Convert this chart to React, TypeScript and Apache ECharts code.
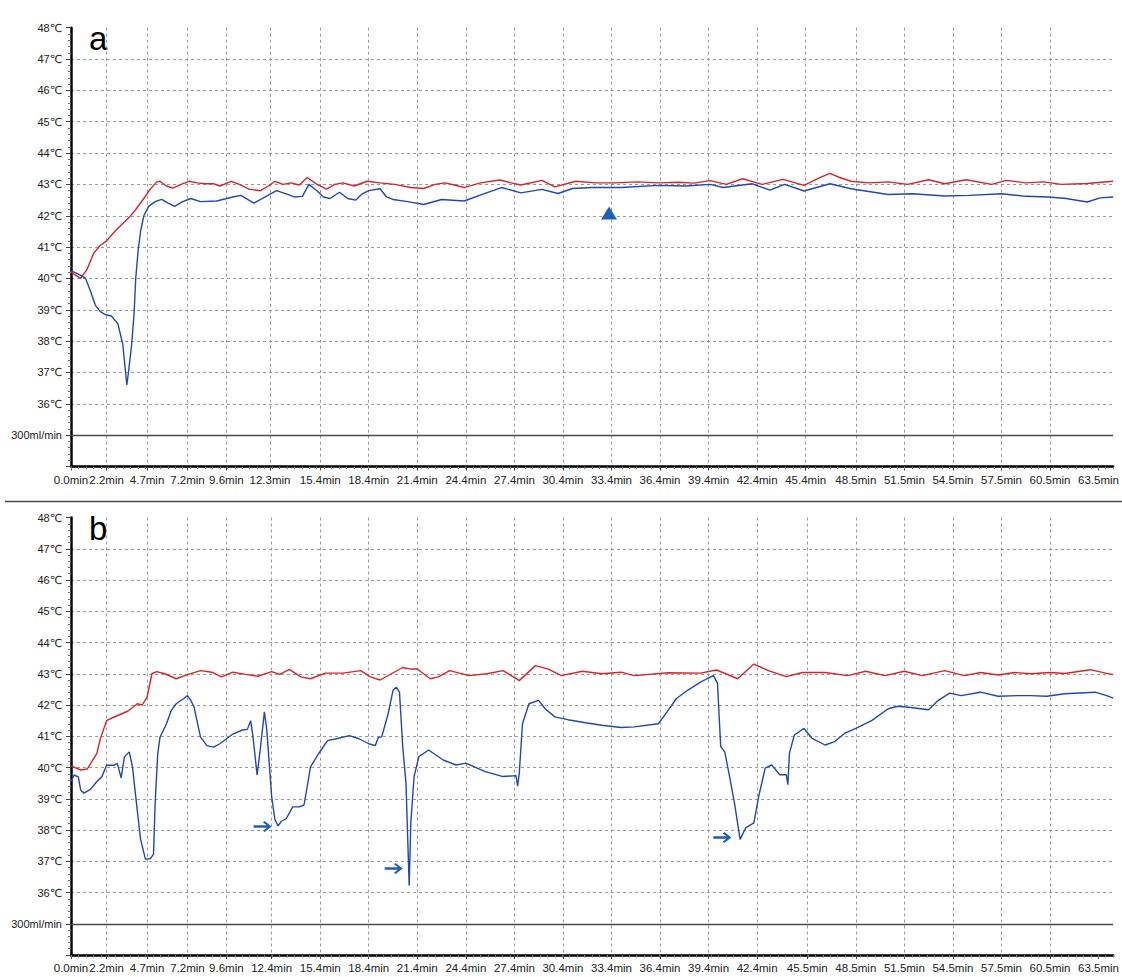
import React, { useEffect, useRef } from "react";
import * as echarts from "echarts";

// ---------- tick labels ----------
const xLabelsA = ["0.0min", "2.2min", "4.7min", "7.2min", "9.6min", "12.3min", "15.4min", "18.4min", "21.4min", "24.4min", "27.4min", "30.4min", "33.4min", "36.4min", "39.4min", "42.4min", "45.4min", "48.5min", "51.5min", "54.5min", "57.5min", "60.5min", "63.5min"];
const xLabelsB = ["0.0min", "2.2min", "4.7min", "7.2min", "9.6min", "12.4min", "15.4min", "18.4min", "21.4min", "24.4min", "27.4min", "30.4min", "33.4min", "36.4min", "39.4min", "42.4min", "45.5min", "48.5min", "51.5min", "54.5min", "57.5min", "60.5min", "63.5min"];
const flowLabel = "300ml/min";

// ---------- panel a ----------
const redA_t = [0, 0.3, 0.6, 1.0, 1.4, 1.8, 2.2, 2.7, 3.2, 3.6, 4.0, 4.5, 4.9, 5.3, 5.5, 5.9, 6.3, 6.8, 7.3, 7.8, 8.3, 8.8, 9.2, 9.9, 10.4, 11.0, 11.7, 12.2, 12.6, 13.1, 13.6, 14.1, 14.6, 15.2, 15.8, 16.3, 16.8, 17.5, 18.3, 19.1, 20.0, 21.0, 21.8, 22.5, 23.1, 23.7, 24.3, 25.3, 26.5, 27.2, 27.8, 29.1, 29.9, 31.2, 32.4, 33.6, 35.0, 36.3, 37.5, 38.5, 39.5, 40.5, 41.5, 42.7, 44.0, 45.3, 46.2, 46.9, 47.5, 48.2, 49.3, 50.5, 51.7, 53.0, 54.0, 55.3, 56.9, 57.8, 59.0, 60.1, 61.2, 62.8, 64.4];
const redA_v = [40.2, 40.1, 40.0, 40.3, 40.8, 41.05, 41.2, 41.5, 41.75, 41.95, 42.2, 42.55, 42.85, 43.08, 43.1, 42.95, 42.88, 43.0, 43.1, 43.05, 43.02, 43.02, 42.95, 43.1, 43.0, 42.85, 42.8, 42.95, 43.1, 43.0, 43.05, 42.98, 43.22, 43.0, 42.85, 43.0, 43.05, 42.95, 43.1, 43.05, 43.0, 42.9, 42.87, 43.0, 43.05, 42.98, 42.9, 43.05, 43.14, 43.05, 42.98, 43.13, 42.92, 43.1, 43.05, 43.05, 43.08, 43.05, 43.07, 43.04, 43.12, 43.0, 43.18, 43.0, 43.16, 42.97, 43.2, 43.35, 43.22, 43.1, 43.05, 43.08, 43.0, 43.15, 43.02, 43.15, 43.0, 43.13, 43.05, 43.08, 43.0, 43.03, 43.1];

const blueA_t = [0, 0.3, 0.6, 0.9, 1.2, 1.5, 1.8, 2.1, 2.5, 2.9, 3.2, 3.45, 3.55, 3.75, 3.9, 4.0, 4.15, 4.3, 4.5, 4.8, 5.2, 5.6, 6.0, 6.4, 6.9, 7.4, 8.0, 9.0, 10.0, 10.5, 11.3, 12.0, 12.7, 13.3, 13.8, 14.3, 14.7, 15.2, 15.6, 16.0, 16.6, 17.1, 17.6, 18.0, 18.4, 19.1, 19.5, 19.9, 20.8, 21.8, 22.9, 24.3, 25.5, 26.6, 27.8, 29.1, 30.1, 31.0, 32.2, 34.0, 36.3, 38.0, 39.5, 40.3, 42.1, 43.2, 44.1, 45.3, 46.9, 48.2, 50.5, 52.0, 54.0, 55.5, 57.5, 59.0, 60.4, 61.5, 62.8, 63.6, 64.4];
const blueA_v = [40.24, 40.18, 40.1, 40.0, 39.6, 39.15, 38.95, 38.85, 38.8, 38.55, 37.9, 36.6, 37.0, 37.9, 38.9, 40.0, 40.9, 41.5, 42.0, 42.3, 42.45, 42.52, 42.4, 42.3, 42.45, 42.55, 42.45, 42.47, 42.6, 42.65, 42.4, 42.6, 42.8, 42.7, 42.6, 42.62, 43.0, 42.8, 42.6, 42.55, 42.75, 42.55, 42.5, 42.7, 42.8, 42.86, 42.6, 42.52, 42.45, 42.36, 42.52, 42.47, 42.7, 42.9, 42.73, 42.84, 42.71, 42.87, 42.9, 42.9, 42.97, 42.95, 43.0, 42.9, 43.02, 42.82, 43.0, 42.79, 43.02, 42.86, 42.68, 42.7, 42.63, 42.65, 42.7, 42.62, 42.6, 42.55, 42.44, 42.57, 42.6];

const triangleA_t = [33.25];
const triangleA_v = [42.09];

// ---------- panel b ----------
const redB_t = [0, 0.6, 1.0, 1.6, 1.8, 2.2, 2.6, 3.5, 4.1, 4.4, 4.7, 5.0, 5.3, 5.8, 6.5, 7.2, 8.0, 8.7, 9.3, 10.0, 10.8, 11.55, 12.4, 12.9, 13.5, 14.2, 14.8, 15.7, 16.8, 17.9, 18.5, 19.1, 20.5, 21.0, 21.4, 22.2, 22.7, 23.4, 24.6, 25.7, 26.7, 27.7, 28.7, 29.5, 30.3, 31.6, 32.8, 34.0, 34.8, 36.9, 38.9, 39.9, 41.2, 42.2, 43.1, 44.2, 45.2, 46.6, 48.0, 49.1, 50.3, 51.5, 52.6, 54.0, 55.2, 56.2, 57.3, 58.3, 59.3, 60.5, 61.4, 63.0, 64.0, 64.4];
const redB_v = [40.05, 39.92, 39.95, 40.45, 40.9, 41.5, 41.6, 41.8, 42.04, 42.0, 42.25, 43.0, 43.07, 43.0, 42.84, 42.97, 43.1, 43.05, 42.9, 43.05, 42.98, 42.92, 43.07, 42.98, 43.14, 42.9, 42.84, 43.02, 43.02, 43.1, 42.9, 42.8, 43.2, 43.15, 43.15, 42.84, 42.9, 43.1, 42.94, 43.0, 43.1, 42.78, 43.26, 43.15, 42.94, 43.08, 43.0, 43.05, 42.94, 43.03, 43.02, 43.12, 42.84, 43.31, 43.1, 42.91, 43.04, 43.04, 42.94, 43.08, 42.94, 43.08, 42.94, 43.1, 42.94, 43.04, 42.96, 43.04, 43.0, 43.04, 43.01, 43.13, 43.01, 42.97];

const blueB_t = [0, 0.2, 0.45, 0.6, 0.8, 1.2, 1.6, 1.9, 2.2, 2.66, 2.86, 3.1, 3.3, 3.6, 3.8, 4.0, 4.3, 4.6, 4.9, 5.1, 5.2, 5.36, 5.5, 5.9, 6.2, 6.5, 6.95, 7.2, 7.4, 7.6, 8.0, 8.4, 8.8, 9.2, 10.0, 10.6, 10.9, 11.1, 11.25, 11.5, 11.7, 11.95, 12.1, 12.4, 12.6, 12.8, 13.0, 13.3, 13.7, 14.1, 14.4, 14.6, 14.8, 15.3, 15.85, 16.4, 17.2, 17.8, 18.4, 18.8, 19.0, 19.2, 19.6, 19.9, 20.1, 20.3, 20.5, 20.7, 20.9, 21.0, 21.2, 21.5, 22.1, 23.0, 23.8, 24.4, 25.6, 26.7, 27.5, 27.6, 27.7, 27.9, 28.3, 28.9, 29.3, 29.9, 30.7, 31.8, 32.8, 34.0, 34.8, 36.3, 36.9, 37.4, 38.1, 38.9, 39.3, 39.7, 39.95, 40.15, 40.4, 40.7, 41.0, 41.35, 41.7, 42.2, 42.5, 42.9, 43.3, 43.8, 44.2, 44.3, 44.4, 44.7, 45.3, 45.8, 46.6, 47.2, 47.8, 48.5, 49.5, 50.5, 51.1, 51.9, 53.0, 53.6, 54.3, 55.0, 56.2, 57.3, 58.5, 59.3, 60.3, 61.4, 63.3, 64.0, 64.4];
const blueB_v = [39.55, 39.76, 39.7, 39.28, 39.18, 39.3, 39.55, 39.7, 40.07, 40.07, 40.13, 39.67, 40.34, 40.5, 40.02, 39.07, 37.7, 37.07, 37.08, 37.23, 38.86, 40.44, 40.97, 41.4, 41.83, 42.04, 42.2, 42.3, 42.15, 41.94, 40.98, 40.7, 40.65, 40.76, 41.07, 41.2, 41.22, 41.5, 40.97, 39.76, 40.6, 41.78, 41.2, 39.07, 38.34, 38.13, 38.28, 38.36, 38.74, 38.74, 38.8, 39.4, 40.02, 40.44, 40.86, 40.92, 41.02, 40.92, 40.76, 40.7, 40.97, 40.98, 41.72, 42.47, 42.57, 42.41, 40.67, 39.5, 36.22, 38.23, 39.71, 40.35, 40.56, 40.24, 40.08, 40.14, 39.87, 39.71, 39.74, 39.4, 39.8, 41.4, 42.04, 42.15, 41.88, 41.62, 41.53, 41.43, 41.35, 41.28, 41.3, 41.4, 41.83, 42.2, 42.47, 42.73, 42.84, 42.94, 42.7, 40.67, 40.5, 39.71, 38.87, 37.7, 38.07, 38.23, 39.08, 39.98, 40.08, 39.77, 39.77, 39.45, 40.46, 41.04, 41.25, 40.93, 40.72, 40.83, 41.09, 41.25, 41.51, 41.88, 41.96, 41.92, 41.85, 42.15, 42.38, 42.3, 42.41, 42.28, 42.3, 42.3, 42.28, 42.36, 42.41, 42.3, 42.22];

const arrowsB_t = [11.84, 19.94, 40.25];
const arrowsB_v = [38.11, 36.77, 37.76];

// ---------- helpers ----------
const zip = (t: number[], v: number[]) => t.map((x, i) => [x, v[i]]);
const FONT = "'Liberation Sans', Arial, 'DejaVu Sans', sans-serif";
const RED = "#d3262c";
const BLUE = "#2148b0";
const MARK_BLUE = "#1f5fb4";
const X_MAX = 64.4;
const ARROW = "path://M0,4.2 L13.2,4.2 L9.4,1.4 L11,0 L18,5.5 L11,11 L9.4,9.6 L13.2,6.8 L0,6.8 Z";

const yFmt = (v: number) => (v === 35 ? flowLabel : v === 34 ? "" : `${v}℃`);

function makeXAxis(gridIndex: number, labels: string[]) {
  const vals = labels.map((s) => parseFloat(s));
  return {
    type: "value",
    gridIndex,
    position: "bottom",
    min: 0,
    max: X_MAX,
    axisLine: { show: true, onZero: false, lineStyle: { color: "#000", width: 2.5 } },
    axisTick: { show: true, customValues: vals, length: 4, lineStyle: { color: "#444", width: 1 } },
    axisLabel: {
      show: true,
      customValues: vals,
      formatter: (v: number) => labels[vals.indexOf(v)] ?? `${v.toFixed(1)}min`,
      fontSize: 11.5,
      color: "#222",
      margin: 7,
      fontFamily: FONT,
    },
    splitLine: { show: true, showMaxLine: false, showMinLine: false, lineStyle: { type: [3, 3], color: "#9a9a9a", width: 1 } },
  };
}

function makeMinorXAxis(gridIndex: number) {
  return {
    type: "value",
    gridIndex,
    position: "bottom",
    min: 0,
    max: X_MAX,
    interval: 0.46,
    axisLine: { show: false },
    axisTick: { show: true, length: 2.5, lineStyle: { color: "#777", width: 1 } },
    axisLabel: { show: false },
    splitLine: { show: false },
  };
}

function makeYAxis(gridIndex: number) {
  return {
    type: "value",
    gridIndex,
    min: 34,
    max: 48,
    interval: 1,
    axisLine: { show: true, onZero: false, lineStyle: { color: "#000", width: 2.5 } },
    axisTick: { show: true, length: 5, lineStyle: { color: "#444", width: 1 } },
    minorTick: { show: true, splitNumber: 5, length: 3, lineStyle: { color: "#777", width: 1 } },
    axisLabel: { formatter: yFmt, fontSize: 11, color: "#222", margin: 9, fontFamily: FONT },
    splitLine: { show: true, showMaxLine: false, lineStyle: { type: [3, 3], color: "#9a9a9a", width: 1 } },
  };
}

const flowMarkLine = {
  silent: true,
  symbol: ["none", "none"],
  label: { show: false },
  lineStyle: { type: "solid", color: "#4a4a4a", width: 1.3 },
  data: [{ yAxis: 35 }],
};

export default function App() {
  const ref = useRef<HTMLDivElement>(null);

  useEffect(() => {
    if (!ref.current) return;
    const chart = echarts.init(ref.current, undefined, { renderer: "svg" });
    const option = {
      animation: false,
      backgroundColor: "#ffffff",
      grid: [
        { left: 71, top: 27.7, width: 1049, height: 438.8 },
        { left: 71, top: 517.5, width: 1049, height: 437.5 },
      ],
      xAxis: [makeXAxis(0, xLabelsA), makeXAxis(1, xLabelsB), makeMinorXAxis(0), makeMinorXAxis(1)],
      yAxis: [makeYAxis(0), makeYAxis(1)],
      series: [
        {
          name: "red-a",
          type: "line",
          xAxisIndex: 0,
          yAxisIndex: 0,
          data: zip(redA_t, redA_v),
          showSymbol: false,
          lineStyle: { color: RED, width: 1.4 },
          itemStyle: { color: RED },
          markLine: flowMarkLine,
        },
        {
          name: "blue-a",
          type: "line",
          xAxisIndex: 0,
          yAxisIndex: 0,
          data: zip(blueA_t, blueA_v),
          showSymbol: false,
          lineStyle: { color: BLUE, width: 1.4 },
          itemStyle: { color: BLUE },
        },
        {
          name: "triangle-a",
          type: "scatter",
          xAxisIndex: 0,
          yAxisIndex: 0,
          data: zip(triangleA_t, triangleA_v),
          symbol: "triangle",
          symbolSize: [16, 13],
          itemStyle: { color: MARK_BLUE, opacity: 1 },
        },
        {
          name: "red-b",
          type: "line",
          xAxisIndex: 1,
          yAxisIndex: 1,
          data: zip(redB_t, redB_v),
          showSymbol: false,
          lineStyle: { color: RED, width: 1.4 },
          itemStyle: { color: RED },
          markLine: flowMarkLine,
        },
        {
          name: "blue-b",
          type: "line",
          xAxisIndex: 1,
          yAxisIndex: 1,
          data: zip(blueB_t, blueB_v),
          showSymbol: false,
          lineStyle: { color: BLUE, width: 1.4 },
          itemStyle: { color: BLUE },
        },
        {
          name: "arrows-b",
          type: "scatter",
          xAxisIndex: 1,
          yAxisIndex: 1,
          data: zip(arrowsB_t, arrowsB_v),
          symbol: ARROW,
          symbolSize: [18, 11],
          itemStyle: { color: MARK_BLUE, opacity: 1 },
        },
      ],
      graphic: [
        {
          type: "line",
          shape: { x1: 5, y1: 501.5, x2: 1122, y2: 501.5 },
          style: { stroke: "#4a4a4a", lineWidth: 1.5 },
        },
        {
          type: "text",
          x: 89,
          y: 38.6,
          style: { text: "a", fontSize: 33, fontFamily: FONT, fill: "#000", textVerticalAlign: "middle" },
        },
        {
          type: "text",
          x: 89,
          y: 528.5,
          style: { text: "b", fontSize: 33, fontFamily: FONT, fill: "#000", textVerticalAlign: "middle" },
        },
      ],
    };
    chart.setOption(option as any);
    return () => chart.dispose();
  }, []);

  return (
    <div
      ref={ref}
      style={{ position: "absolute", left: 0, top: 0, width: 1122, height: 977, background: "#fff" }}
    />
  );
}
